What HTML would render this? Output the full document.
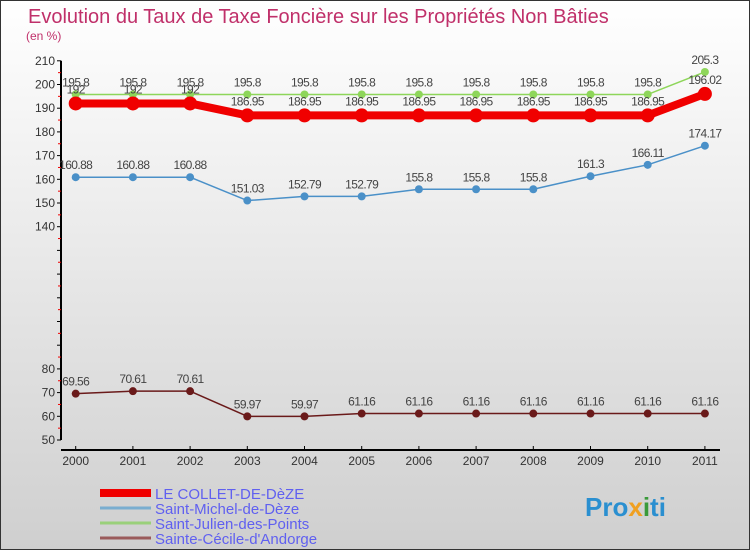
<!DOCTYPE html>
<html><head><meta charset="utf-8"><style>
html,body{margin:0;padding:0}
body{width:750px;height:550px;overflow:hidden;font-family:"Liberation Sans",sans-serif}
</style></head><body>
<svg id="c" width="750" height="550" xmlns="http://www.w3.org/2000/svg">
<defs><linearGradient id="bg" x1="0" y1="0" x2="0" y2="1"><stop offset="0" stop-color="#ffffff"/><stop offset="1" stop-color="#cfcfcf"/></linearGradient></defs>
<rect x="0.5" y="0.5" width="749" height="549" fill="url(#bg)" stroke="#333"/>
<text x="28" y="23" font-size="20" font-weight="300" fill="#c0306a">Evolution du Taux de Taxe Foncière sur les Propriétés Non Bâties</text>
<text x="26" y="40" font-size="12" fill="#c0306a">(en %)</text>
<g id="axes"></g><g id="series"></g><g id="legend"></g>
<text x="585" y="516" font-size="26" font-weight="bold" fill="#2a8fd0">Pro<tspan fill="#f0a020">x</tspan><tspan fill="#3a9a3a">i</tspan>ti</text>
</svg>
<script>
const years=["2000","2001","2002","2003","2004","2005","2006","2007","2008","2009","2010","2011"];
const yTicks=[50,60,70,80,90,100,110,120,130,140,150,160,170,180,190,200,210];
const yLabelsHidden=[90,100,110,120,130];
const collet=[192,192,192,186.95,186.95,186.95,186.95,186.95,186.95,186.95,186.95,196.02];
const michel=[160.88,160.88,160.88,151.03,152.79,152.79,155.8,155.8,155.8,161.3,166.11,174.17];
const julien=[195.8,195.8,195.8,195.8,195.8,195.8,195.8,195.8,195.8,195.8,195.8,205.3];
const cecile=[69.56,70.61,70.61,59.97,59.97,61.16,61.16,61.16,61.16,61.16,61.16,61.16];
const names=["LE COLLET-DE-DèZE","Saint-Michel-de-Dèze","Saint-Julien-des-Points","Sainte-Cécile-d'Andorge"];
const NS="http://www.w3.org/2000/svg";
const X=i=>75.7+i*57.2;
const Y=v=>440-(v-50)*2.37;
function mk(t,a,p){const e=document.createElementNS(NS,t);for(const k in a)e.setAttribute(k,a[k]);p.appendChild(e);return e;}
const ax=document.getElementById('axes');
const yl=mk('line',{x1:61,y1:Y(210),x2:61,y2:Y(50),stroke:'#000','stroke-width':2},ax);


const xl=mk('line',{x1:61,y1:450,x2:720,y2:450,stroke:'#000','stroke-width':2},ax);


yTicks.forEach((v,i)=>{
 mk('line',{x1:57,y1:Y(v),x2:61,y2:Y(v),stroke:'#000'},ax);
 if(i<yTicks.length-1)mk('line',{x1:58,y1:Y(v+5),x2:61,y2:Y(v+5),stroke:'#e00'},ax);
 if(yLabelsHidden.indexOf(v)>=0)return;
 const t=mk('text',{x:55,y:Y(v)+4,'font-size':12,'text-anchor':'end',fill:'#333'},ax);
 
 
 t.textContent=v;
});
years.forEach((y,i)=>{
 mk('line',{x1:X(i),y1:446,x2:X(i),y2:450,stroke:'#000'},ax);
 const t=mk('text',{x:X(i),y:465,'font-size':12,'text-anchor':'middle',fill:'#333'},ax);
 
 
 t.textContent=y;
});
const sg=document.getElementById('series');
function series(data,color,w,r,name,dy){
 const g=mk('g',{},sg);
 
 
 const pl=mk('polyline',{points:data.map((v,i)=>X(i)+','+Y(v)).join(' '),fill:'none',stroke:color,'stroke-width':w,'stroke-linejoin':'round'},g);
 
 
 data.forEach((v,i)=>{
  const c=mk('circle',{cx:X(i),cy:Y(v),r:r,fill:color},g);
  
  
  const t=mk('text',{x:X(i),y:Y(v)+dy,'font-size':12,'text-anchor':'middle',fill:'#444','letter-spacing':'-0.6'},g);
  
  
  t.textContent=v;
 });
}
series(julien,'#8ed65a',1.5,4,'series-saint-julien',-8);
series(cecile,'#6a1a1a',1.5,4,'series-sainte-cecile',-8);
series(michel,'#4a90c8',1.5,4,'series-saint-michel',-8);
series(collet,'#f00000',8,7,'series-le-collet',-10);
const lg=document.getElementById('legend');
const lc=['#f00000','#7aaed0','#9ad07a','#9a5a5a'],lw=[8,3,3,3];
names.forEach((n,i)=>{
 const y=493+i*15;
 const g=mk('g',{},lg);
 
 
 mk('line',{x1:100,y1:y,x2:151,y2:y,stroke:lc[i],'stroke-width':lw[i]},g);
 const t=mk('text',{x:155,y:y+6,'font-size':15,fill:'#6060f0'},g);
 t.textContent=n;
});
</script>
</body></html>
